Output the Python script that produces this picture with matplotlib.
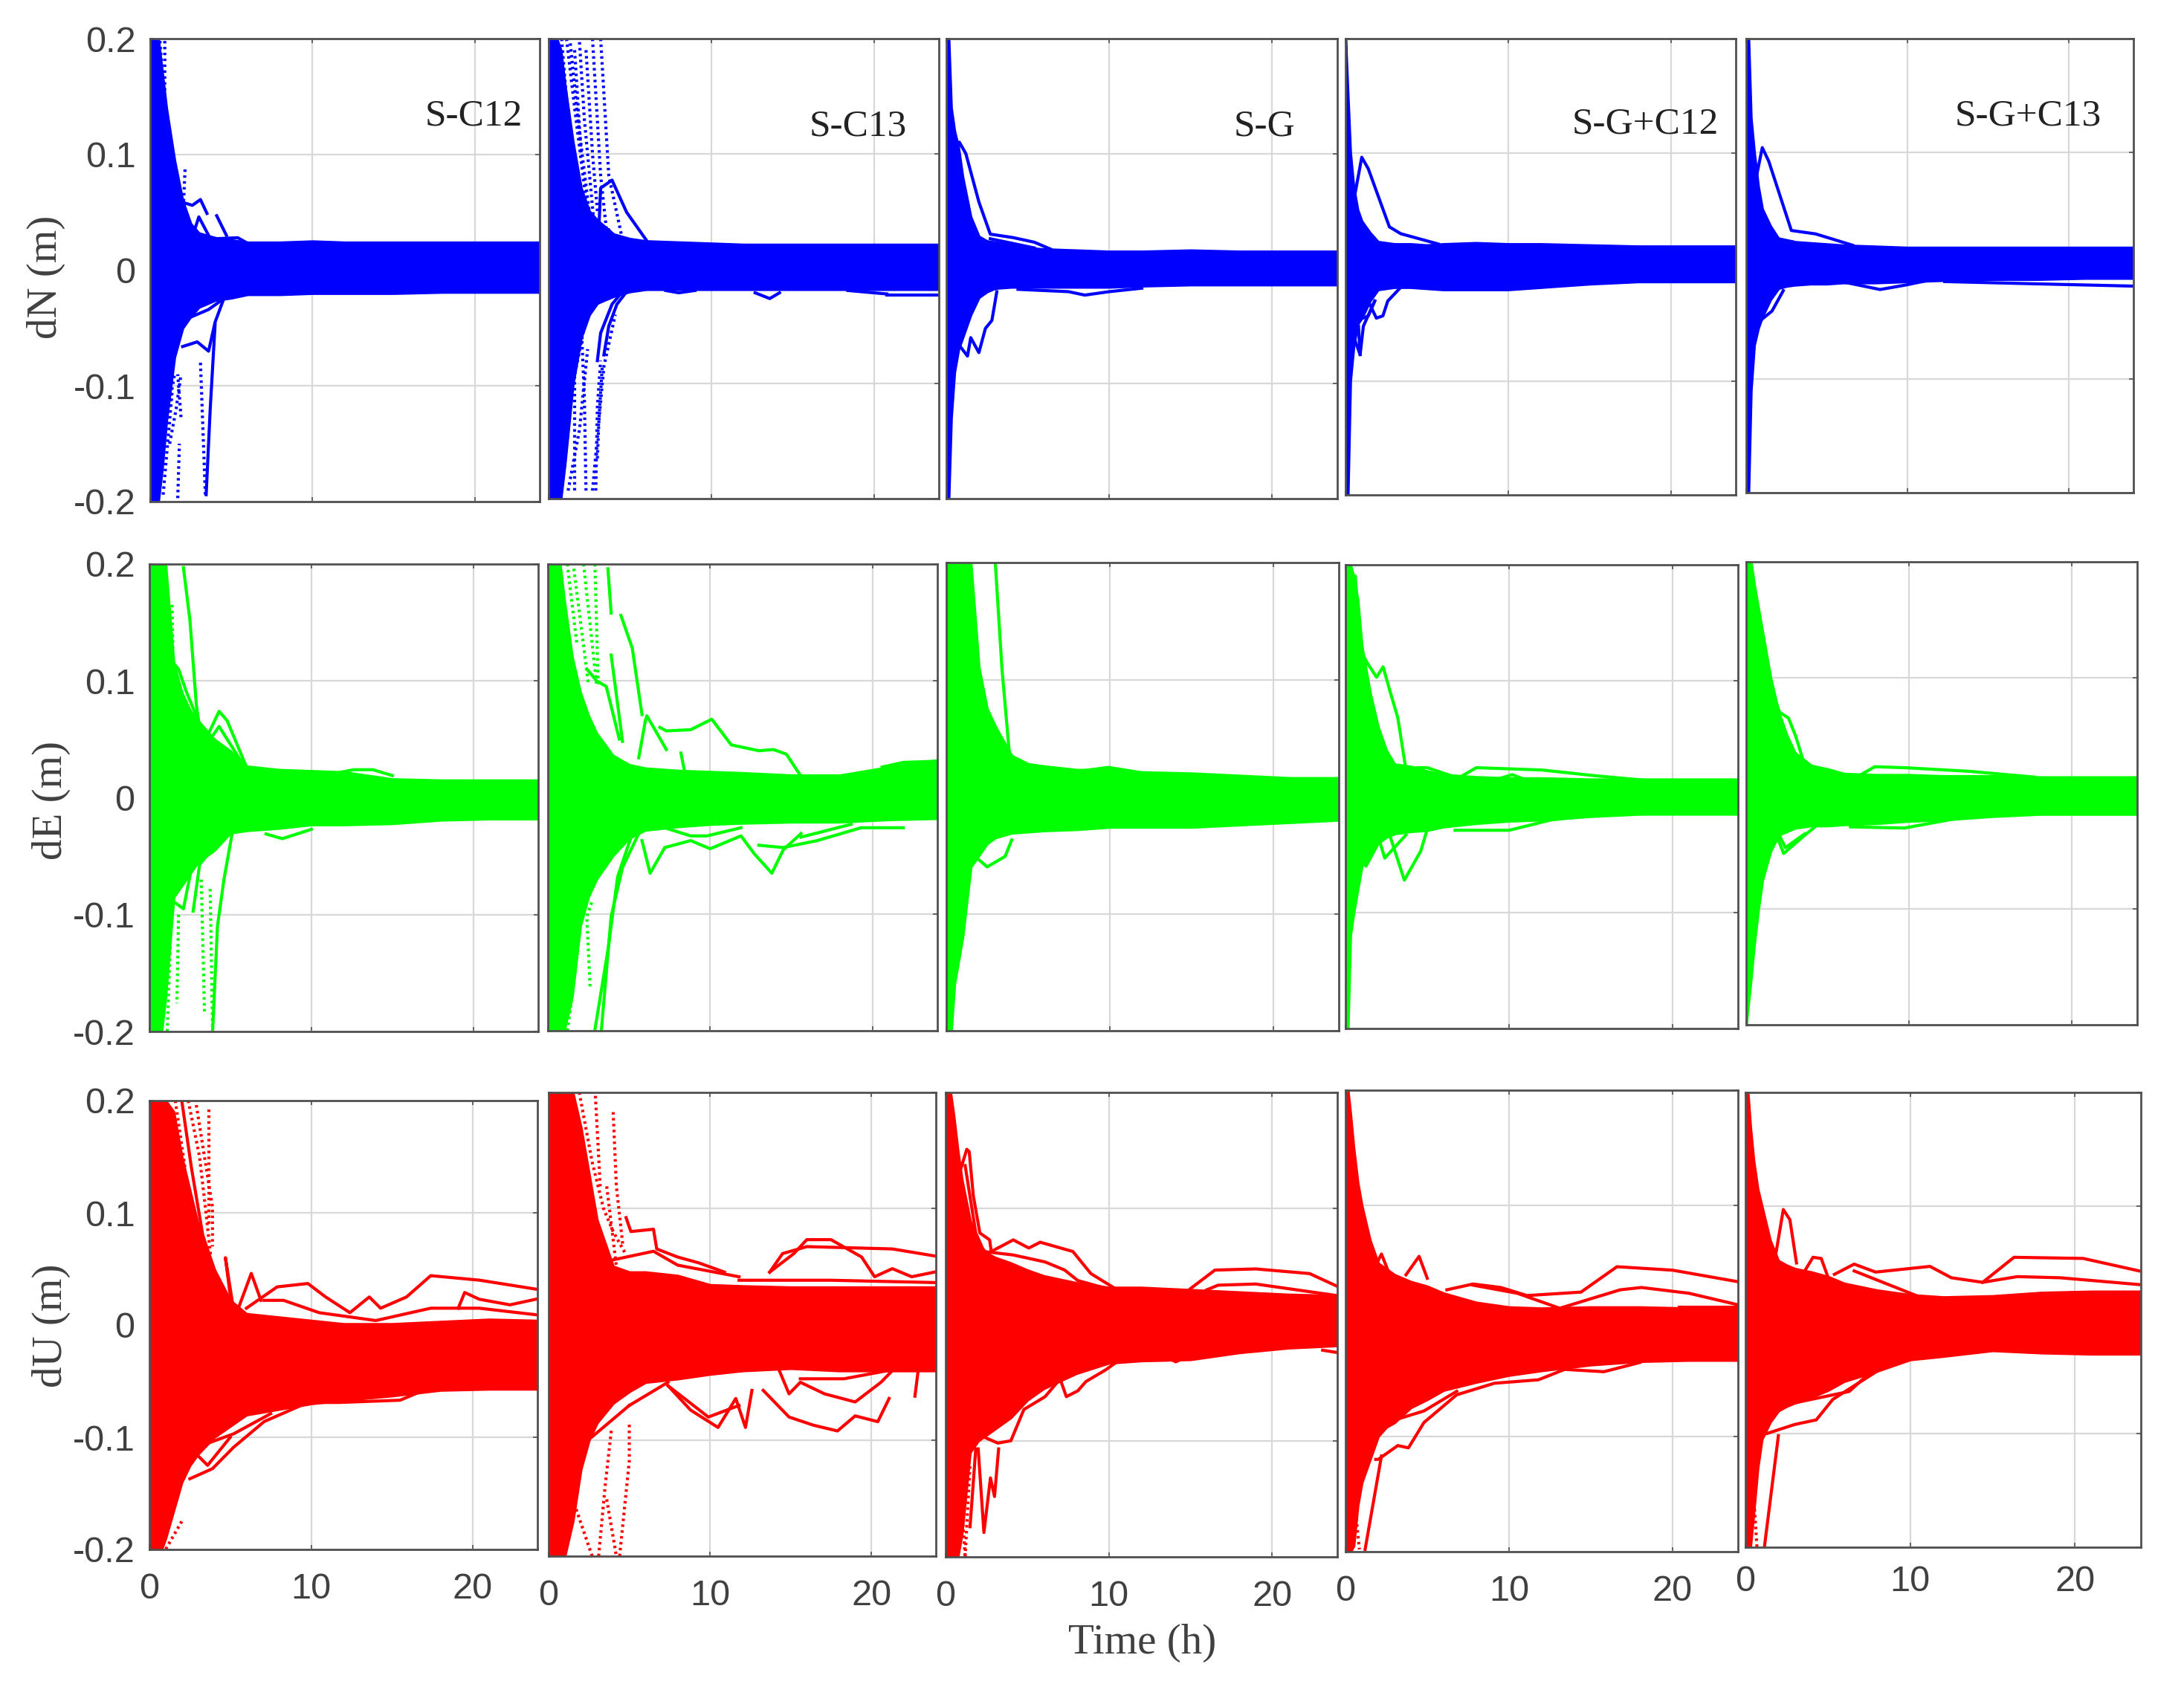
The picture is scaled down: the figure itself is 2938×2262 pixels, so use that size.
import matplotlib
matplotlib.use("Agg")
import matplotlib.pyplot as plt

W, H = 2938, 2262

# time grid of the band edges (hours), edges per panel
T_ENV = [0, .15, .3, .5, .75, 1, 1.5, 2, 2.5, 3, 4, 5, 6, 8, 10, 12, 15, 18, 21, 24]

# --- dN ---
N_C12_HI = [.2,.2,.2,.2,.17,.14,.095,.06,.04,.032,.028,.026,.024,.024,.025,.024,.024,.024,.024,.024]
N_C12_LO = [-.2,-.2,-.2,-.2,-.17,-.13,-.075,-.05,-.04,-.032,-.026,-.024,-.021,-.021,-.02,-.02,-.02,-.019,-.019,-.019]
N_C12_LINES = [
    ([1.9,2.6,3.1,3.5],[.059,.056,.061,.049]),
    ([2.7,3,3.6],[.033,.046,.03]),
    ([4.1,4.7],[.047,.03]),
    ([3.8,5.4,5.9],[.027,.028,.024]),
    ([2,2.9,3.6,4,4.5],[-.066,-.062,-.07,-.045,-.026]),
    ([3.45,3.7,4],[-.194,-.12,-.047]),
    ([2.6,3.6,4.5],[-.04,-.034,-.025]),
]
N_C12_DOTS = [
    ([.9,.9,1.5],[.198,.13,.089]),
    ([.6,.8,1.2],[.198,.16,.11]),
    ([2.15,2.05],[.087,.056]),
    ([1.7,1.8],[-.197,-.15]),
    ([1.9,1.7],[-.127,-.09]),
    ([3.1,3.4],[-.08,-.194]),
    ([.8,1.35],[-.194,-.106]),
    ([.5,.9,1.5],[-.194,-.14,-.09]),
    ([1.2,1.6,1.9],[-.15,-.12,-.09]),
]

N_C13_HI = [.2,.2,.2,.2,.19,.16,.11,.07,.05,.042,.03,.026,.024,.023,.022,.021,.021,.021,.021,.021]
N_C13_LO = [-.2,-.2,-.2,-.2,-.2,-.17,-.1,-.06,-.04,-.03,-.024,-.02,-.018,-.018,-.018,-.018,-.018,-.018,-.018,-.018]
N_C13_LINES = [
    ([3.1,3.2,3.9,4.8,6],[.038,.07,.077,.049,.025]),
    ([3.6,3.7,3.8],[.028,.034,.028]),
    ([3,3.2,3.9,4.6],[-.08,-.056,-.031,-.019]),
    ([3.4,3.7,4.2,4.8],[-.075,-.05,-.031,-.02]),
    ([12.7,13.6,14.2],[-.021,-.026,-.021]),
    ([20.8,23.5,24],[-.023,-.023,-.023]),
    ([18.4,20.8],[-.019,-.022]),
    ([7.2,8,9],[-.019,-.021,-.019]),
]
N_C13_DOTS = [
    ([1.3,1.8,2.6],[.201,.13,.038]),
    ([1.9,2.2,2.8],[.197,.13,.038]),
    ([2.7,3.2,3.6],[.2,.081,.028]),
    ([3.2,3.7,4.5],[.2,.081,.028]),
    ([.8,1.2,1.8],[.2,.13,.05]),
    ([1.6,2.0],[.19,.1]),
    ([1.1,1.6,2.3],[.2,.14,.06]),
    ([2.3,2.7,3],[.19,.1,.05]),
    ([2.7,3.4,4.1],[-.193,-.085,-.04]),
    ([.8,1.5,2.2],[-.193,-.1,-.05]),
    ([2.3,2.2,2],[-.193,-.112,-.045]),
    ([1.6,1.6],[-.193,-.085]),
    ([3,3.1,3.3],[-.165,-.13,-.085]),
    ([1.2,1.9,2.4],[-.193,-.14,-.07]),
    ([2.9,3,3.2],[-.193,-.12,-.08]),
]

N_G_HI = [.2,.2,.14,.12,.105,.08,.045,.028,.024,.023,.021,.018,.017,.016,.015,.015,.016,.015,.015,.015]
N_G_LO = [-.2,-.2,-.13,-.09,-.07,-.06,-.04,-.025,-.02,-.017,-.016,-.016,-.016,-.016,-.016,-.015,-.014,-.014,-.014,-.014]
N_G_LINES = [
    ([.7,.8,1.2,2,2.7,4.1,5.4,6.4],[.103,.11,.1,.058,.03,.027,.023,.017]),
    ([1.3,1.6,2.5],[.042,.029,.022]),
    ([2.7,5.4],[.026,.018]),
    ([.6,1.3,1.5,2,2.4,2.8,3.1],[-.063,-.076,-.06,-.073,-.052,-.045,-.02]),
    ([4.4,7.5,8.5,10,12],[-.018,-.02,-.023,-.02,-.017]),
]
N_G_DOTS = []

N_GC12_HI = [.2,.15,.1,.07,.05,.04,.03,.022,.021,.02,.02,.019,.02,.021,.02,.02,.019,.018,.018,.018]
N_GC12_LO = [-.2,-.2,-.1,-.07,-.05,-.045,-.03,-.02,-.019,-.018,-.018,-.019,-.02,-.02,-.02,-.018,-.015,-.013,-.013,-.013]
N_GC12_LINES = [
    ([.6,1,1.4,2.7,3.4,5.7],[.065,.096,.086,.035,.029,.02]),
    ([.8,.9],[-.052,-.077]),
    ([.8,1.4,1.9,2.3,2.6,3.4],[-.041,-.03,-.045,-.043,-.03,-.018]),
    ([.8,1.1,1.4,1.8],[-.037,-.045,-.043,-.03]),
    ([.6,.9,1.1,1.8],[-.065,-.077,-.052,-.03]),
]
N_GC12_DOTS = []

N_GC13_HI = [.2,.2,.13,.1,.07,.05,.035,.024,.022,.021,.02,.019,.018,.017,.016,.016,.016,.016,.016,.016]
N_GC13_LO = [-.2,-.2,-.11,-.07,-.055,-.045,-.03,-.02,-.018,-.017,-.016,-.016,-.015,-.015,-.014,-.013,-.012,-.012,-.011,-.011]
N_GC13_LINES = [
    ([.4,1,1.4,2.8,4.3,6.6],[.062,.104,.092,.031,.028,.018]),
    ([1.3,1.9,2.9],[.035,.024,.021]),
    ([.3,1.6,2.3],[-.055,-.04,-.022]),
    ([5.9,8.3,9.9,11.6],[-.014,-.021,-.017,-.012]),
    ([12.3,18,24],[-.014,-.016,-.018]),
]
N_GC13_DOTS = []

# --- dE ---
E_C12_HI = [.2,.2,.2,.2,.2,.2,.115,.09,.075,.066,.05,.04,.027,.024,.023,.022,.016,.015,.015,.015]
E_C12_LO = [-.2,-.2,-.2,-.2,-.2,-.17,-.085,-.075,-.065,-.055,-.045,-.03,-.028,-.026,-.023,-.023,-.022,-.019,-.018,-.018]
E_C12_LINES = [
    ([2.1,2.5,2.9,3.1],[.197,.152,.079,.06]),
    ([3.65,4.3,4.8,6],[.055,.074,.066,.026]),
    ([3.75,4.3,5.9],[.05,.061,.026]),
    ([3.9,4.2,4.6,5.1],[-.2,-.11,-.07,-.031]),
    ([2.7,3.1,3.7],[-.097,-.057,-.047]),
    ([7.2,8.2,10],[-.031,-.035,-.027]),
    ([11.5,12.6,13.8,15],[.021,.024,.024,.019]),
    ([1.5,1.8,2.3,2.9],[.115,.11,.09,.07]),
    ([1.6,2.1,2.6],[-.09,-.095,-.06]),
]
E_C12_DOTS = [
    ([1.8,1.7],[-.1,-.176]),
    ([3.2,3.4],[-.07,-.183]),
    ([3.75,3.9],[-.078,-.2]),
    ([1.4,1.45],[.165,.126]),
    ([1.1,1.3],[-.2,-.12]),
]

E_C13_HI = [.2,.2,.2,.2,.2,.17,.12,.09,.07,.055,.036,.028,.025,.023,.022,.021,.019,.019,.026,.032]
E_C13_LO = [-.2,-.2,-.2,-.2,-.2,-.2,-.17,-.11,-.085,-.07,-.05,-.035,-.028,-.025,-.023,-.022,-.021,-.021,-.019,-.018]
E_C13_LINES = [
    ([6,6.1,7.3],[.065,.07,.041]),
    ([5.6,6],[.034,.065]),
    ([6.9,7.3,8.8,10.1,11.3,13,13.9,14.7,15.6],[.06,.057,.058,.067,.045,.04,.041,.037,.018]),
    ([8.2,8.4],[.038,.024]),
    ([3.7,3.9],[.196,.158]),
    ([4.5,5.2,5.8],[.156,.128,.071]),
    ([3.9,4.6],[.122,.048]),
    ([5.8,6.3,7.2,8.8,10,11.9,12.7,13.8,14.5,15.6],[-.037,-.065,-.043,-.037,-.044,-.033,-.048,-.065,-.045,-.031]),
    ([7.2,8.8,9.8,11.9],[-.026,-.033,-.033,-.026]),
    ([13,14.5,16.6,19.3,21.9],[-.041,-.043,-.037,-.026,-.026]),
    ([15.6,18.7],[-.034,-.023]),
    ([3.3,3.9,4.6,5.6],[-.199,-.102,-.06,-.031]),
    ([2.9,3.7,4.3,5.2],[-.199,-.131,-.068,-.031]),
    ([20.6,21.9,24],[.026,.03,.031]),
    ([20.6,21.9,24],[.02,.026,.027]),
    ([2.4,3,3.6,4.4],[.11,.1,.095,.05]),
]
E_C13_DOTS = [
    ([2.9,3.1],[.2,.097]),
    ([1.6,2.5],[.196,.097]),
    ([2.2,3],[.2,.097]),
    ([1.2,1.8],[.2,.13]),
    ([2.6,2.4,2.75],[-.162,-.102,-.088]),
    ([1.2,1.5,1.9],[-.2,-.17,-.12]),
]

E_G_HI = [.2,.2,.2,.2,.2,.2,.2,.11,.075,.06,.035,.028,.026,.023,.023,.021,.02,.018,.016,.016]
E_G_LO = [-.2,-.2,-.2,-.16,-.14,-.12,-.06,-.05,-.04,-.035,-.031,-.03,-.029,-.028,-.026,-.026,-.026,-.024,-.022,-.02]
E_G_LINES = [
    ([3,3.4,3.9],[.199,.11,.03]),
    ([2.5,3.1,3.6],[.062,.053,.03]),
    ([1.75,2.5,3.6,4],[-.051,-.06,-.051,-.037]),
    ([8.3,9.9,11.7],[.022,.025,.021]),
]
E_G_DOTS = []

E_GC12_HI = [.2,.2,.2,.19,.17,.13,.09,.06,.04,.028,.026,.022,.019,.017,.016,.016,.015,.015,.015,.015]
E_GC12_LO = [-.2,-.2,-.12,-.1,-.08,-.06,-.05,-.04,-.035,-.032,-.03,-.029,-.026,-.023,-.021,-.02,-.017,-.015,-.015,-.015]
E_GC12_LINES = [
    ([.6,.9,1.3,1.9,2.3,2.7,3.2,3.7],[.19,.127,.116,.103,.112,.092,.068,.023]),
    ([1.6,2.1,2.7],[.068,.033,.025]),
    ([3.7,4.4,5,6.9,8,12,15.3,19.2],[.023,.025,.025,.016,.025,.023,.018,.013]),
    ([8.8,10.2,11.3],[.013,.019,.013]),
    ([2.7,3.6,4.6,5],[-.033,-.072,-.047,-.028]),
    ([.9,1.25,1.75,2.2],[-.047,-.06,-.047,-.035]),
    ([2.1,2.4,3.7],[-.039,-.053,-.033]),
    ([6.7,10,12.6,16],[-.029,-.029,-.02,-.015]),
]
E_GC12_DOTS = []

E_GC13_HI = [.2,.2,.2,.18,.16,.14,.1,.07,.05,.035,.024,.021,.017,.016,.016,.015,.015,.014,.014,.014]
E_GC13_LO = [-.2,-.18,-.16,-.13,-.1,-.075,-.05,-.036,-.033,-.03,-.028,-.028,-.027,-.026,-.024,-.023,-.02,-.018,-.018,-.018]
E_GC13_LINES = [
    ([1.05,1.4,2.05,2.6,3.05,3.55],[.135,.096,.07,.065,.049,.026]),
    ([6.9,7.9,9.9,13.7,17.7],[.015,.023,.022,.019,.014]),
    ([1.7,2.3,3.7,4.4],[-.03,-.052,-.035,-.027]),
    ([2,2.4,3.6],[-.035,-.047,-.035]),
    ([6.4,9.7,14.4],[-.029,-.03,-.018]),
]
E_GC13_DOTS = []

# --- dU ---
U_C12_HI = [.2,.2,.2,.2,.2,.2,.19,.15,.12,.09,.05,.022,.01,.007,.004,.001,.001,.003,.005,.004]
U_C12_LO = [-.2,-.2,-.2,-.2,-.2,-.19,-.165,-.14,-.125,-.115,-.1,-.09,-.08,-.075,-.07,-.067,-.063,-.058,-.057,-.057]
U_C12_LINES = [
    ([5.1,4.7,5.2],[.015,.06,.014]),
    ([5.4,6.3,6.9],[.011,.046,.022]),
    ([6,7.9,9.8,10.9,12.4,13.6,14.3,15.9,17.4,20.4,23.9],[.015,.034,.037,.025,.011,.025,.015,.025,.044,.04,.032]),
    ([7.1,8.3,10.5,14,17.4,20.4,24],[.022,.022,.011,.004,.015,.015,.009]),
    ([19.1,19.5,20.4,22.3,23.9],[.015,.029,.023,.018,.023]),
    ([2.5,3.9,5.2,7.1,9.8,11.7,15.5,17],[-.137,-.128,-.109,-.086,-.069,-.069,-.067,-.058]),
    ([3.3,5.2,7.5],[-.107,-.097,-.079]),
    ([2,2.6,3.3,4],[.2,.14,.08,.05]),
    ([1.5,2.2,2.9,3.6,5],[-.16,-.13,-.115,-.125,-.1]),
]
U_C12_DOTS = [
    ([2.9,3.9,3.9],[.196,.105,.07]),
    ([3.7,3.7],[.192,.088]),
    ([1.6,2.2],[.2,.14]),
    ([2,1],[-.175,-.2]),
    ([2.4,3.1,3.5,3.8],[.2,.15,.1,.06]),
]

U_C13_HI = [.2,.2,.2,.2,.2,.2,.2,.17,.13,.09,.05,.045,.045,.042,.034,.033,.032,.032,.032,.032]
U_C13_LO = [-.2,-.2,-.2,-.2,-.2,-.2,-.17,-.125,-.1,-.085,-.068,-.058,-.05,-.047,-.043,-.04,-.038,-.04,-.04,-.04]
U_C13_LINES = [
    ([4.8,5.1,6.5,6.7,8,9.3,10.9],[.092,.08,.082,.065,.058,.053,.045]),
    ([3.8,6.5,8,11.8],[.055,.063,.051,.041]),
    ([13.7,14.5,16,21.3,23.9],[.045,.061,.067,.065,.059]),
    ([13.7,15.2,16,17.5,19.4,20.2,21.3,22.5,23.9],[.045,.061,.073,.073,.058,.041,.048,.041,.045]),
    ([11.8,17.5,23.9],[.038,.038,.036]),
    ([7.4,8.8,10.5,11.6,12.2,12.6],[-.053,-.074,-.089,-.064,-.089,-.057]),
    ([7.4,9.9,11.8],[-.053,-.08,-.07]),
    ([13.3,14.9,16.4,17.9,19,20.4,21.1],[-.057,-.08,-.087,-.092,-.079,-.084,-.064]),
    ([14.3,14.9,15.6,17.1,19,20.6,21.3],[-.04,-.06,-.05,-.06,-.067,-.05,-.04]),
    ([15.6,18.3,21],[-.047,-.047,-.04]),
    ([22.7,22.9],[-.062,-.04]),
    ([5,7.4],[-.07,-.05]),
    ([2.7,5],[-.097,-.07]),
]
U_C13_DOTS = [
    ([4,4.2,4.6],[.183,.119,.068]),
    ([2.9,3.2],[.197,.119]),
    ([3.6,4.2],[.119,.05]),
    ([1.9,2.7,3.4,4,4.8],[.2,.14,.1,.08,.06]),
    ([4.4,5,5],[-.2,-.118,-.084]),
    ([2.7,1.5,1.9],[-.2,-.151,-.101]),
    ([3.6,4.2],[-.151,-.2]),
    ([3.1,3.5,3.9],[-.2,-.14,-.09]),
]

U_G_HI = [.2,.2,.2,.18,.15,.125,.09,.07,.062,.058,.053,.047,.042,.036,.032,.032,.03,.028,.026,.025]
U_G_LO = [-.2,-.2,-.2,-.2,-.2,-.18,-.11,-.1,-.095,-.09,-.08,-.065,-.055,-.042,-.033,-.031,-.03,-.024,-.02,-.018]
U_G_LINES = [
    ([.95,1.3,1.45,1.7,2.1,2.7,2.8,4.15,5.1,5.8,7.8,8.9,10.4],[.135,.151,.149,.111,.079,.073,.063,.073,.066,.071,.063,.044,.031]),
    ([1.2,1.85,2.35,4.15,6.1,7.3,8.1,9.9],[.137,.079,.063,.06,.054,.047,.038,.031]),
    ([15,16.5,19,22.3,24],[.031,.047,.048,.044,.033]),
    ([16,16.7,19,21.5,24],[.03,.034,.035,.03,.025]),
    ([1.5,1.9,3.2,4,4.8,6.1,7],[-.099,-.094,-.102,-.1,-.073,-.062,-.047]),
    ([7,7.4,8.1,8.6,9.8,10.4],[-.046,-.062,-.057,-.049,-.039,-.033]),
    ([7.6,8.8,9.9],[-.043,-.033,-.03]),
    ([3,4.6,6],[-.075,-.068,-.049]),
    ([13.4,14.1,14.9],[-.027,-.032,-.027]),
    ([23.1,24],[-.022,-.024]),
    ([2,2.35,2.75,3,3.25],[-.107,-.179,-.132,-.148,-.107]),
    ([1.5,1.85],[-.174,-.107]),
]
U_G_DOTS = [
    ([.85,1.2],[-.126,-.2]),
    ([1.2,1.5],[-.2,-.12]),
]

U_GC12_HI = [.2,.2,.18,.15,.12,.1,.07,.05,.045,.04,.034,.03,.024,.016,.012,.011,.012,.012,.011,.01]
U_GC12_LO = [-.2,-.2,-.2,-.195,-.16,-.14,-.12,-.1,-.092,-.088,-.075,-.068,-.06,-.053,-.047,-.043,-.038,-.035,-.034,-.034]
U_GC12_LINES = [
    ([1.7,2.2,2.7],[.044,.058,.04]),
    ([3.7,4.5,5],[.04,.056,.037]),
    ([6.2,7.8,9.5,11.1,14.4,16.6,20,24],[.027,.032,.029,.022,.025,.047,.044,.034]),
    ([7.8,10.5,13.1,16.8,18.1,21,24],[.031,.024,.011,.027,.029,.024,.014]),
    ([20.4,24],[.012,.012]),
    ([1.85,2,3.2,3.85,4.8,6.8,9.1,11.8,13.4,15.8,18],[-.12,-.12,-.108,-.11,-.088,-.064,-.054,-.051,-.042,-.044,-.036]),
    ([1.2,2.2],[-.198,-.117]),
    ([3.2,4.8,6.8],[-.085,-.078,-.061]),
]
U_GC12_DOTS = [([.55,.85],[-.156,-.198])]

U_GC13_HI = [.2,.2,.17,.14,.115,.1,.07,.052,.048,.045,.042,.038,.032,.026,.022,.02,.021,.024,.025,.025]
U_GC13_LO = [-.2,-.2,-.2,-.17,-.13,-.105,-.09,-.08,-.076,-.073,-.068,-.062,-.054,-.045,-.035,-.032,-.027,-.029,-.03,-.03]
U_GC13_LINES = [
    ([1.8,2.3,2.7,3.1],[.054,.097,.088,.05]),
    ([3.6,4.1,4.6,5],[.043,.055,.054,.038]),
    ([5.4,6.6,7.9,11.2,12.5,14.4,16.3,20.5,23.9],[.04,.049,.042,.047,.037,.033,.055,.054,.043]),
    ([6.6,10.6],[.043,.02]),
    ([14.4,16.5,19.1,23.9],[.033,.038,.037,.031]),
    ([20.5,23.9],[.023,.021]),
    ([1.3,3,4.3,5.3,7.9,9.2],[-.1,-.092,-.088,-.07,-.046,-.034]),
    ([1.15,2],[-.2,-.102]),
    ([3,6.3,7.9],[-.073,-.063,-.042]),
]
U_GC13_DOTS = [([.35,.7],[-.12,-.2])]

ROWS = ["dN (m)", "dE (m)", "dU (m)"]
COLORS = ["#0000ff", "#00ff00", "#ff0000"]
SOLUTIONS = ["S-C12", "S-C13", "S-G", "S-G+C12", "S-G+C13"]
Y_TICKS = [-.2, -.1, 0, .1, .2]
Y_LABELS = ["-0.2", "-0.1", "0", "0.1", "0.2"]
X_TICKS = [0, 10, 20]
X_LABELS = ["0", "10", "20"]

SERIES = [
    [(N_C12_HI,N_C12_LO,N_C12_LINES,N_C12_DOTS), (N_C13_HI,N_C13_LO,N_C13_LINES,N_C13_DOTS),
     (N_G_HI,N_G_LO,N_G_LINES,N_G_DOTS), (N_GC12_HI,N_GC12_LO,N_GC12_LINES,N_GC12_DOTS),
     (N_GC13_HI,N_GC13_LO,N_GC13_LINES,N_GC13_DOTS)],
    [(E_C12_HI,E_C12_LO,E_C12_LINES,E_C12_DOTS), (E_C13_HI,E_C13_LO,E_C13_LINES,E_C13_DOTS),
     (E_G_HI,E_G_LO,E_G_LINES,E_G_DOTS), (E_GC12_HI,E_GC12_LO,E_GC12_LINES,E_GC12_DOTS),
     (E_GC13_HI,E_GC13_LO,E_GC13_LINES,E_GC13_DOTS)],
    [(U_C12_HI,U_C12_LO,U_C12_LINES,U_C12_DOTS), (U_C13_HI,U_C13_LO,U_C13_LINES,U_C13_DOTS),
     (U_G_HI,U_G_LO,U_G_LINES,U_G_DOTS), (U_GC12_HI,U_GC12_LO,U_GC12_LINES,U_GC12_DOTS),
     (U_GC13_HI,U_GC13_LO,U_GC13_LINES,U_GC13_DOTS)],
]

# layout: panel boxes in pixels (left, right, top, bottom), panels are slightly misaligned
BOXES = [
    [(202,726,52,675), (738,1263,52,671), (1273,1799,52,671), (1810,2335,52,666), (2349,2870,52,663)],
    [(201,724,759,1388), (737,1261,759,1387), (1273,1801,757,1387), (1810,2338,760,1384), (2349,2875,756,1379)],
    [(201,723,1481,2085), (738,1259,1470,2094), (1272,1799,1470,2095), (1810,2338,1467,2088), (2348,2880,1470,2082)],
]
XPAD = [22, 22, 22, 22, 17]

plt.rcParams["font.family"] = ["Liberation Sans", "DejaVu Sans"]
SERIF = ["Liberation Serif", "DejaVu Serif"]
INK = "#404040"

fig = plt.figure(figsize=(W / 100, H / 100), dpi=100)

for r in range(3):
    for c in range(5):
        l, rt, t, b = BOXES[r][c]
        ax = fig.add_axes([l / W, 1 - b / H, (rt - l) / W, (b - t) / H])
        hi, lo, lines, dots = SERIES[r][c]
        col = COLORS[r]
        ax.fill_between(T_ENV, lo, hi, color=col, lw=2.5, zorder=3)
        for tt, vv in lines:
            ax.plot(tt, vv, color=col, lw=3, zorder=4)
        for tt, vv in dots:
            ax.plot(tt, vv, color=col, lw=3, ls=(0, (.8, 1.1)), zorder=4)
        ax.set_xlim(0, 24)
        ax.set_ylim(-.2, .2)
        ax.set_xticks(X_TICKS)
        ax.set_yticks(Y_TICKS)
        ax.grid(True, color="#d8d8d8", lw=1.6, zorder=1)
        ax.set_axisbelow(True)
        ax.tick_params(direction="in", top=True, right=True, length=4, width=1.2, color="#505050")
        ax.tick_params(axis="x", pad=XPAD[c])
        ax.tick_params(axis="y", pad=14)
        if r == 2:
            ax.set_xticklabels(X_LABELS, fontsize=35, color=INK)
        else:
            ax.set_xticklabels([])
        if c == 0:
            ax.set_yticklabels(Y_LABELS, fontsize=35, color=INK)
        else:
            ax.set_yticklabels([])
        for s in ax.spines.values():
            s.set_color("#505050")
            s.set_linewidth(2.0)
            s.set_zorder(5)

# solution names, shrunk-image centres scaled up to full size
NAME_POS = [(637, 156), (1154, 170), (1701, 170), (2213, 167), (2728, 156)]
for name, (x, y) in zip(SOLUTIONS, NAME_POS):
    fig.text(x / W, 1 - y / H, name, family=SERIF, fontsize=37, color="#222222", ha="center", va="center")

YLAB_POS = [(62, 373), (69, 1077), (69, 1784)]
for lab, (x, y) in zip(ROWS, YLAB_POS):
    fig.text(x / W, 1 - y / H, lab, family=SERIF, fontsize=41, color=INK, rotation=90, ha="center", va="center")

fig.text(1537 / W, 1 - 2211 / H, "Time (h)", family=SERIF, fontsize=41, color=INK, ha="center", va="center")

fig.savefig("out.png", dpi=100, facecolor="white")
